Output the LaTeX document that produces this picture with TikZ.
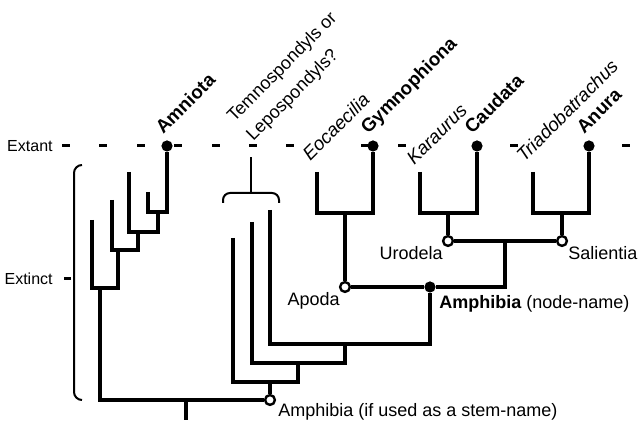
\documentclass[tikz,border=0pt]{standalone}
\usepackage{fontspec}
\setmainfont{Liberation Sans}
\usetikzlibrary{positioning}
\tikzset{branch/.style={draw=black,line width=2pt},thinline/.style={draw=black,line width=1pt},dashmark/.style={draw=black,line width=1.5pt},tipdot/.style={circle,fill=black,inner sep=0pt,minimum size=5.6pt},opendot/.style={circle,draw=black,fill=white,line width=1.2pt,inner sep=0pt,minimum size=4.9pt},cladename/.style={rotate=45,anchor=base west,inner sep=0pt,font=\fontsize{9.4}{11}\selectfont\bfseries},fossilname/.style={rotate=45,anchor=base west,inner sep=0pt,font=\fontsize{9.4}{11}\selectfont\itshape},nodename/.style={inner sep=0pt,font=\fontsize{9}{11}\selectfont},timename/.style={inner sep=0pt,anchor=east,font=\fontsize{8}{10}\selectfont}}

\begin{document}
\begin{tikzpicture}[x=0.5pt,y=0.5pt]
\useasboundingbox (0,0) rectangle (638,426);
% time levels
\node[timename] (extant) at (53,280) {Extant};
\node[timename] (extinct) at (53,147) {Extinct};
\foreach \x in {62,99,137,174,212,249,286,361,398,510,622} \draw[dashmark] (\x,280) -- ++(8,0);
\draw[dashmark] ([xshift=5.5pt]extinct.east) -- ++(7,0);
\draw[thinline,rounded corners=4pt] (82,261) -| (74,143) |- (82,26);
% tips
\node[tipdot] (amn) at (167,280) {};
\node[tipdot] (gym) at (373,280) {};
\node[tipdot] (cau) at (477,280) {};
\node[tipdot] (anu) at (589,280) {};
\coordinate (s1) at (148,234);\coordinate (s2) at (129,254);\coordinate (s3) at (112,226);\coordinate (s4) at (92,206);
\coordinate (t1) at (233,188);\coordinate (t2) at (252,204);\coordinate (t3) at (270,216);
\coordinate (eoc) at (317,254);\coordinate (kar) at (420,254);\coordinate (tri) at (533,254);
% internal nodes
\coordinate (n1) at (158,214);\coordinate (n2) at (138,194);\coordinate (n3) at (118,176);\coordinate (n4) at (100,138);
\coordinate (p1) at (270,44);\coordinate (p2) at (298,63);\coordinate (p3) at (345,82);
\coordinate (g1) at (345,213);\coordinate (g2) at (448,213);\coordinate (g3) at (562,213);\coordinate (q1) at (505,185);
\coordinate (root) at (186,26);\coordinate (grp) at (251,233);
\node[opendot] (stem) at (270,26) {};
\node[opendot] (apoda) at (345,139) {};
\node[tipdot] (amph) at (430,139) {};
\node[opendot] (uro) at (448,185) {};
\node[opendot] (sal) at (562,185) {};
% branches
\draw[branch] (s1) |- (n1) -| (amn);
\draw[branch] (s2) |- (n2) -| (n1);
\draw[branch] (s3) |- (n3) -| (n2);
\draw[branch] (s4) |- (n4) -| (n3);
\draw[branch] (n4) |- (stem);
\draw[branch] (root) -- ++(0,-20);
\draw[branch] (t1) |- (p1) -| (p2);
\draw[branch] (t2) |- (p2) -| (p3);
\draw[branch] (t3) |- (p3) -| (amph);
\draw[branch] (p1) -- (stem);
\draw[branch] (apoda) -- (amph) -| (q1);
\draw[branch] (uro) -- (sal);
\draw[branch] (eoc) |- (g1) -| (gym);\draw[branch] (apoda) -- (g1);
\draw[branch] (kar) |- (g2) -| (cau);\draw[branch] (uro) -- (g2);
\draw[branch] (tri) |- (g3) -| (anu);\draw[branch] (sal) -- (g3);
\draw[thinline,rounded corners=3.5pt] (223,223) |- (grp) -| (279,223);
\draw[thinline] (grp) -- ++(0,36);
% labels
\node[cladename] (amnlab) at ([shift={(-4,11)}]amn.center) {Amniota};
\node[cladename] (gymlab) at ([shift={(-5,11)}]gym.center) {Gymnophiona};
\node[cladename] (caulab) at ([shift={(-5,11)}]cau.center) {Caudata};
\node[cladename] (anulab) at ([shift={(-5,11)}]anu.center) {Anura};
\node[fossilname] (eoclab) at ([shift={(-7,10)}]eoc) {Eocaecilia};
\node[fossilname] (karlab) at ([shift={(-6,6)}]kar) {Karaurus};
\node[fossilname] (trilab) at ([shift={(-9,9)}]tri) {Triadobatrachus};
\node[rotate=45,anchor=south west,align=left,inner sep=0pt,font=\fontsize{9}{13.5}\selectfont] (grplab) at (256,281) {Temnospondyls or\\Lepospondyls?};
\node[nodename,anchor=base east] (urolab) at ([shift={(-5,-19)}]uro.center) {Urodela};
\node[nodename,anchor=base west] (sallab) at ([shift={(6,-19)}]sal.center) {Salientia};
\node[nodename,anchor=base east] (apolab) at ([shift={(-5,-19)}]apoda.center) {Apoda};
\node[nodename,anchor=base west] (amphlab) at ([shift={(9,-22)}]amph.center) {\bfseries Amphibia\mdseries{} (node-name)};
\node[nodename,anchor=base west] (stemlab) at ([shift={(8,-17)}]stem.center) {Amphibia (if used as a stem-name)};
\end{tikzpicture}
\end{document}
